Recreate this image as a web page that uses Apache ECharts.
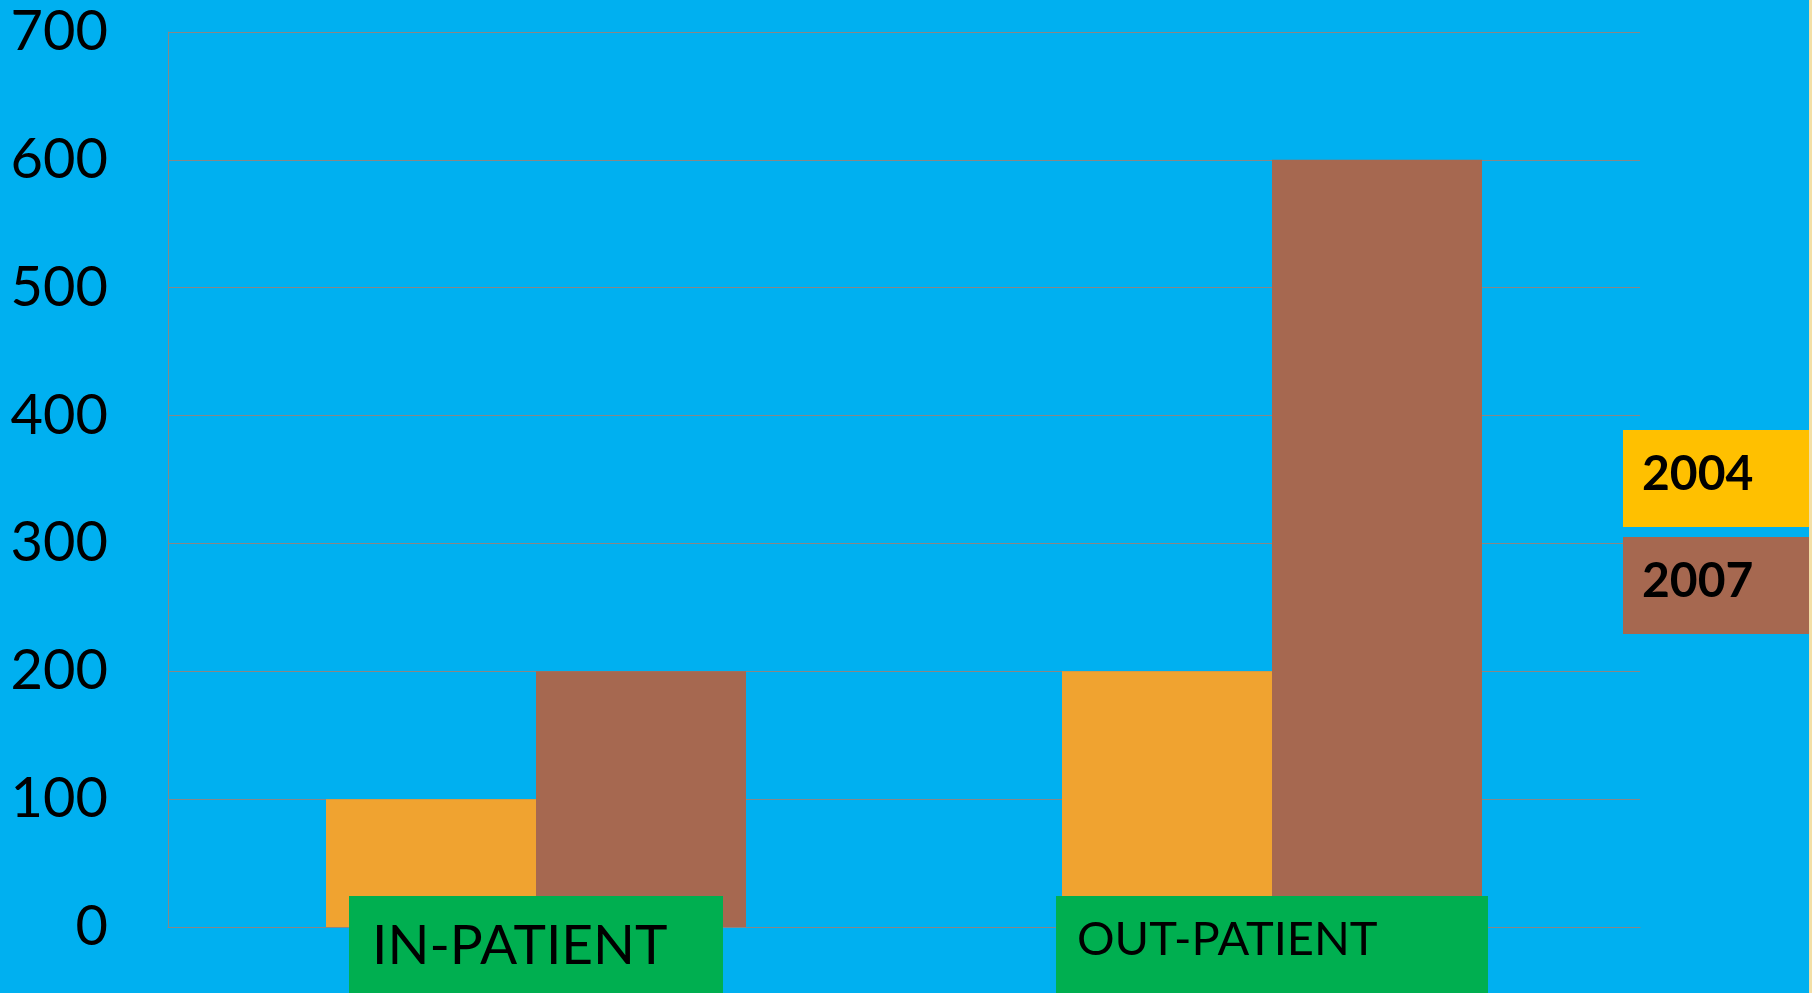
<!DOCTYPE html>
<html>
<head>
<meta charset="utf-8">
<script src="https://cdn.jsdelivr.net/npm/echarts@6/dist/echarts.min.js"></script>
<style>
  html, body { margin: 0; padding: 0; background: #f3dfa6; }
  #chart { width: 1809px; height: 993px; }
</style>
</head>
<body>
<div id="chart"></div>
<script>
const categories = ['IN-PATIENT', 'OUT-PATIENT'];
const seriesNames = ['2004', '2007'];
const values2004 = [100, 200];
const values2007 = [200, 600];

const chart = echarts.init(document.getElementById('chart'));

const legendText = (bg) => ({
  rich: {
    t: {
      fontFamily: 'Lato',
      fontWeight: 'bold',
      fontSize: 48,
      lineHeight: 48,
      color: '#000',
      backgroundColor: bg,
      width: 167,
      padding: [21, 0, 28, 19]
    }
  }
});

chart.setOption({
  backgroundColor: '#00B0F0',
  animation: false,
  textStyle: { fontFamily: 'Lato' },
  grid: {
    left: 168, right: 169, top: 32, bottom: 66,
    containLabel: false,
    outerBoundsMode: 'none'
  },
  legend: {
    orient: 'vertical',
    left: 1613,
    top: 425,
    itemGap: 10,
    icon: 'none',
    itemWidth: 0,
    itemHeight: 0,
    selectedMode: false,
    formatter: (name) => '{t|' + name + '}',
    data: [
      { name: seriesNames[0], textStyle: legendText('#FFC000') },
      { name: seriesNames[1], textStyle: legendText('#A66850') }
    ]
  },
  xAxis: {
    type: 'category',
    data: categories,
    z: 5,
    axisTick: { show: false },
    axisLine: { lineStyle: { color: '#878787', width: 1 } },
    axisLabel: {
      interval: 0,
      margin: -4,
      formatter: (v) => (v === 'IN-PATIENT' ? '{a|' + v + '}' : '{b|' + v + '}'),
      rich: {
        a: {
          fontFamily: 'Lato', fontSize: 55, lineHeight: 55, color: '#000',
          backgroundColor: '#00AF50', width: 351, align: 'left',
          padding: [23, 0, 31, 23]
        },
        b: {
          fontFamily: 'Lato', fontSize: 47, lineHeight: 51, color: '#000',
          backgroundColor: '#00AF50', width: 411, align: 'left',
          padding: [20, 0, 38, 21]
        }
      }
    }
  },
  yAxis: {
    type: 'value',
    min: 0,
    max: 700,
    interval: 100,
    axisLine: { show: true, lineStyle: { color: '#878787', width: 1 } },
    axisTick: { show: false },
    splitLine: { lineStyle: { color: '#878787', width: 1 } },
    axisLabel: { fontFamily: 'Lato', fontSize: 56, color: '#000', margin: 60 }
  },
  series: [
    {
      name: seriesNames[0],
      type: 'bar',
      data: values2004,
      barWidth: 210,
      barGap: '0%',
      itemStyle: { color: '#F0A330' }
    },
    {
      name: seriesNames[1],
      type: 'bar',
      data: values2007,
      barWidth: 210,
      barGap: '0%',
      itemStyle: { color: '#A66850' }
    }
  ]
});
</script>
</body>
</html>
